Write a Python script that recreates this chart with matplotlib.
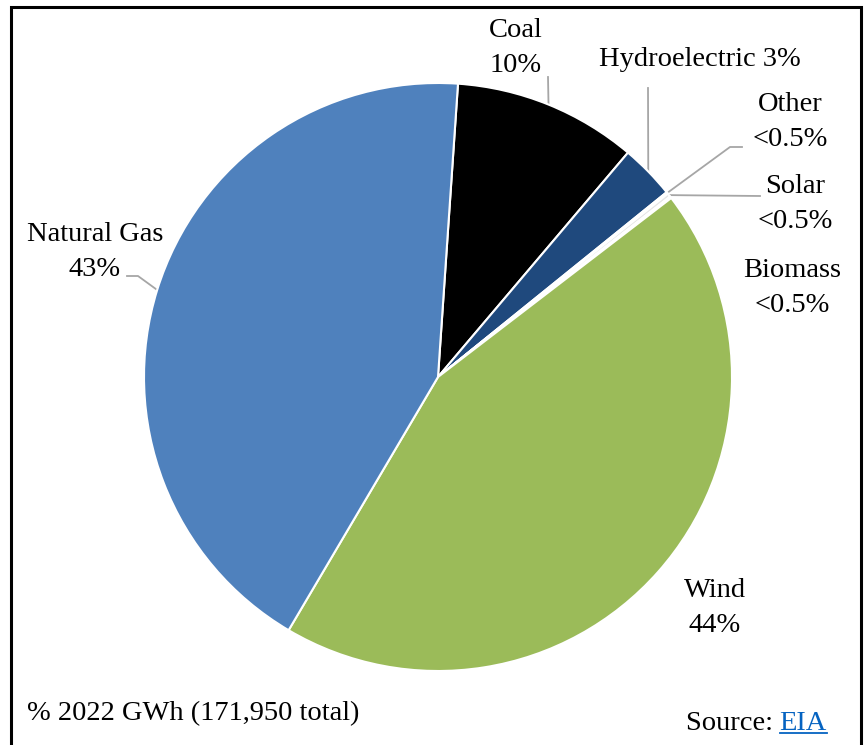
import numpy as np
import matplotlib
matplotlib.use('Agg')
import matplotlib.pyplot as plt

# ── Data ──────────────────────────────────────────────────────────────────────
labels    = ['Coal', 'Hydroelectric', 'Other', 'Solar', 'Biomass', 'Wind', 'Natural Gas']
shares    = [10.1, 3.0, 0.1, 0.2, 0.1, 43.9, 42.6]
pct_text  = ['10%', '3%', '<0.5%', '<0.5%', '<0.5%', '44%', '43%']
colors    = ['#000000', '#1F497D', '#D9D9D9', '#E6E6E6', '#D9D9D9', '#9BBB59', '#4F81BD']
footnote  = '% 2022 GWh (171,950 total)'

# ── Layout (pixel coords, y from top) ─────────────────────────────────────────
W, H = 867, 745
CX, CY, R = 438, 377, 294
FONT = 'Liberation Serif'
FS = 20.5
LEADER = '#A6A6A6'

def Y(y):
    return H - y

fig = plt.figure(figsize=(W / 100, H / 100), dpi=100)
ax = fig.add_axes([0, 0, 1, 1])

wedges, _ = ax.pie(shares, colors=colors, startangle=86.1, counterclock=False,
                   center=(CX, Y(CY)), radius=R,
                   wedgeprops=dict(edgecolor='white', linewidth=1.5))
ax.set_aspect('auto')
ax.set_xlim(0, W)
ax.set_ylim(0, H)
ax.axis('off')

def arc_mid(i):
    w = wedges[i]
    a = np.radians((w.theta1 + w.theta2) / 2)
    return CX + R * np.cos(a), Y(CY) + R * np.sin(a)

# label text / positions
label_pos = {
    'Coal':          (516, 48),
    'Hydroelectric': (700, 60),
    'Other':         (790, 122),
    'Solar':         (795, 204),
    'Biomass':       (792, 288),
    'Wind':          (715, 608),
    'Natural Gas':   (95, 252),
}
for name, pct in zip(labels, pct_text):
    txt = f'{name} {pct}' if name == 'Hydroelectric' else f'{name}\n{pct}'
    x, y = label_pos[name]
    ax.text(x, Y(y), txt, ha='center', va='center', fontsize=FS,
            family=FONT, linespacing=1.55, color='black')

# leader lines (label side points, pie side from wedge arc)
leaders = {
    'Coal':          [(548, 77)],
    'Hydroelectric': [(648, 88)],
    'Other':         [(742, 147), (730, 147)],
    'Solar':         [(760, 196)],
    'Natural Gas':   [(127, 276), (138, 276)],
}
for name, pts in leaders.items():
    mx, my = arc_mid(labels.index(name))
    xs = [p[0] for p in pts] + [mx]
    ys = [Y(p[1]) for p in pts] + [my]
    ax.plot(xs, ys, color=LEADER, linewidth=1.3, zorder=0.5)

# footnote + source (right aligned to 827 px)
ax.text(27, Y(714), footnote, ha='left', va='center', fontsize=FS,
        family=FONT, color='black')
eia = ax.text(827, Y(723), 'EIA', ha='right', va='center', fontsize=FS,
              family=FONT, color='#0563C1')
fig.canvas.draw()
eb = eia.get_window_extent()
ax.text(eb.x0, Y(723), 'Source: ', ha='right', va='center', fontsize=FS,
        family=FONT, color='black')
ax.plot([eb.x0, eb.x1], [eb.y0 + 3, eb.y0 + 3], color='#0563C1', linewidth=1.3)

# outer frame
ax.plot([11, 11, 861, 861], [-5, Y(7), Y(7), -5], color='black', linewidth=2.2,
        solid_joinstyle='miter')

fig.savefig('out.png', dpi=100)
